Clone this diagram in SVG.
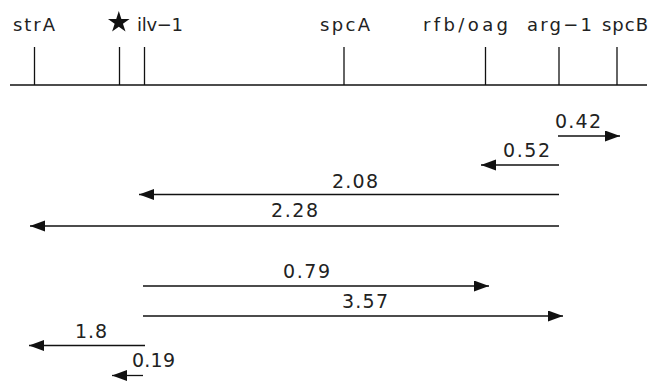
<svg xmlns="http://www.w3.org/2000/svg" width="655" height="381" viewBox="0 0 655 381">
  <style>
    .lbl { font-family: "DejaVu Sans", "Liberation Sans", sans-serif; font-size: 18px; fill: #222; }
    .num { font-family: "DejaVu Sans", "Liberation Sans", sans-serif; font-size: 19px; fill: #222; }
    .axis, .tick { stroke: #111; stroke-width: 1.3; fill: none; }
    .arrow { stroke: #111; stroke-width: 1.3; fill: none; marker-end: url(#head); }
  </style>
  <defs>
    <marker id="head" markerUnits="userSpaceOnUse" markerWidth="16" markerHeight="12" refX="15" refY="5.5" orient="auto">
      <path d="M0,0 L15,5.5 L0,11 z" fill="#111"/>
    </marker>
  </defs>
  <rect width="655" height="381" fill="#fff"/>

  <!-- chromosome axis -->
  <line class="axis" x1="10" y1="85" x2="647" y2="85"/>

  <!-- gene markers -->
  <g id="strA">
    <line class="tick" x1="34.5" y1="47" x2="34.5" y2="85"/>
    <text class="lbl" x="13" y="31" textLength="42" lengthAdjust="spacing">strA</text>
  </g>
  <g id="star">
    <line class="tick" x1="119.5" y1="47" x2="119.5" y2="85"/>
    <polygon fill="#111" points="118.8,11 121.36,18.88 129.64,18.88 122.94,23.74 125.5,31.62 118.8,26.75 112.1,31.62 114.66,23.74 107.96,18.88 116.24,18.88"/>
  </g>
  <g id="ilv-1">
    <line class="tick" x1="144.5" y1="47" x2="144.5" y2="85"/>
    <text class="lbl" x="137" y="31" textLength="46" lengthAdjust="spacing">ilv−1</text>
  </g>
  <g id="spcA">
    <line class="tick" x1="344" y1="47" x2="344" y2="85"/>
    <text class="lbl" x="320" y="31" textLength="50" lengthAdjust="spacing">spcA</text>
  </g>
  <g id="rfb-oag">
    <line class="tick" x1="485.5" y1="47" x2="485.5" y2="85"/>
    <text class="lbl" x="423" y="31" textLength="85" lengthAdjust="spacing">rfb/oag</text>
  </g>
  <g id="arg-1">
    <line class="tick" x1="559" y1="47" x2="559" y2="85" stroke-width="1.8"/>
    <text class="lbl" x="527" y="31" textLength="65" lengthAdjust="spacing">arg−1</text>
  </g>
  <g id="spcB">
    <line class="tick" x1="617" y1="47" x2="617" y2="85"/>
    <text class="lbl" x="602" y="31" textLength="46" lengthAdjust="spacing">spcB</text>
  </g>

  <!-- mapped intervals -->
  <g id="connectors">
    <line class="arrow" x1="558" y1="136" x2="620" y2="136"/>
    <text class="num" x="555" y="127.5" textLength="46" lengthAdjust="spacing">0.42</text>

    <line class="arrow" x1="559" y1="165" x2="481" y2="165"/>
    <text class="num" x="503" y="156.5" textLength="47" lengthAdjust="spacing">0.52</text>

    <line class="arrow" x1="559" y1="194.5" x2="139" y2="194.5"/>
    <text class="num" x="332" y="188" textLength="46" lengthAdjust="spacing">2.08</text>

    <line class="arrow" x1="559" y1="226" x2="30" y2="226"/>
    <text class="num" x="271" y="216.5" textLength="47" lengthAdjust="spacing">2.28</text>

    <line class="arrow" x1="143" y1="286" x2="489" y2="286"/>
    <text class="num" x="283" y="278" textLength="47" lengthAdjust="spacing">0.79</text>

    <line class="arrow" x1="143" y1="316" x2="563" y2="316"/>
    <text class="num" x="342" y="308" textLength="46" lengthAdjust="spacing">3.57</text>

    <line class="arrow" x1="145" y1="345.5" x2="29" y2="345.5"/>
    <text class="num" x="75" y="338" textLength="32" lengthAdjust="spacing">1.8</text>

    <line class="arrow" x1="143" y1="375.5" x2="112" y2="375.5"/>
    <text class="num" x="132" y="366.5" textLength="43" lengthAdjust="spacing">0.19</text>
  </g>
</svg>
